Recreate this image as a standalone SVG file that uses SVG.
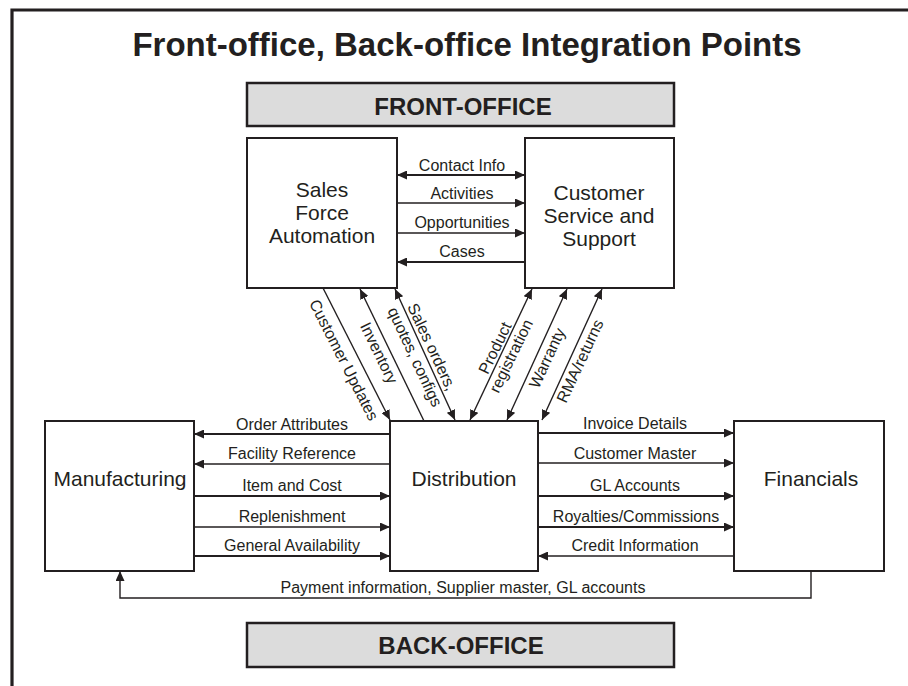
<svg xmlns="http://www.w3.org/2000/svg" width="908" height="686" viewBox="0 0 908 686">
  <style>
    text { font-family: "Liberation Sans", Arial, sans-serif; fill: #231f20; }
    .title { font-size: 33px; font-weight: bold; text-anchor: middle; }
    .band { fill: #dcdcdc; stroke: #231f20; stroke-width: 2.5; }
    .bandtxt { font-size: 24px; font-weight: bold; text-anchor: middle; }
    .node { fill: #ffffff; stroke: #231f20; stroke-width: 2; }
    .ntxt { font-size: 21px; text-anchor: middle; }
    .lbl { font-size: 16px; text-anchor: middle; }
    .dlbl { font-size: 16px; text-anchor: middle; dominant-baseline: central; }
    .thin { stroke: #231f20; stroke-width: 1.4; fill: none; }
    .thick { stroke: #231f20; stroke-width: 2.2; fill: none; }
    .frame { stroke: #231f20; stroke-width: 3.2; fill: none; }
  </style>
  <defs>
    <marker id="arrow" markerUnits="userSpaceOnUse" markerWidth="10" markerHeight="9" refX="10" refY="4.5" orient="auto-start-reverse">
      <path d="M0,0 L10,4.5 L0,9 Z" fill="#231f20"/>
    </marker>
  </defs>

  <!-- outer frame (open at right and bottom) -->
  <path class="frame" d="M12,686 V10 H908"/>

  <text class="title" x="467" y="56">Front-office, Back-office Integration Points</text>

  <g id="front-office">
    <rect class="band" x="247" y="83" width="427" height="43"/>
    <text class="bandtxt" x="463" y="115">FRONT-OFFICE</text>
  </g>

  <g id="back-office">
    <rect class="band" x="247" y="623" width="427" height="44"/>
    <text class="bandtxt" x="461" y="654">BACK-OFFICE</text>
  </g>

  <g id="sales-force-automation">
    <rect class="node" x="247" y="138" width="150" height="150"/>
    <text class="ntxt" x="322" y="197">Sales</text>
    <text class="ntxt" x="322" y="220">Force</text>
    <text class="ntxt" x="322" y="243">Automation</text>
  </g>

  <g id="customer-service">
    <rect class="node" x="525" y="138" width="149" height="150"/>
    <text class="ntxt" x="599" y="200">Customer</text>
    <text class="ntxt" x="599" y="223">Service and</text>
    <text class="ntxt" x="599" y="246">Support</text>
  </g>

  <g id="manufacturing">
    <rect class="node" x="45" y="421" width="149" height="150"/>
    <text class="ntxt" x="120" y="486">Manufacturing</text>
  </g>

  <g id="distribution">
    <rect class="node" x="390" y="421" width="148" height="150"/>
    <text class="ntxt" x="464" y="486">Distribution</text>
  </g>

  <g id="financials">
    <rect class="node" x="734" y="421" width="150" height="150"/>
    <text class="ntxt" x="811" y="486">Financials</text>
  </g>

  <g id="connectors">
    <!-- Sales Force Automation <-> Customer Service -->
    <line class="thick" x1="397" y1="175" x2="525" y2="175" marker-start="url(#arrow)" marker-end="url(#arrow)"/>
    <line class="thin" x1="397" y1="203" x2="525" y2="203" marker-end="url(#arrow)"/>
    <line class="thin" x1="397" y1="233" x2="525" y2="233" marker-end="url(#arrow)"/>
    <line class="thick" x1="525" y1="262" x2="397" y2="262" marker-end="url(#arrow)"/>
    <text class="lbl" x="462" y="171">Contact Info</text>
    <text class="lbl" x="462" y="199">Activities</text>
    <text class="lbl" x="462" y="228">Opportunities</text>
    <text class="lbl" x="462" y="257">Cases</text>

    <!-- front office <-> Distribution -->
    <line class="thin" x1="323" y1="288" x2="390" y2="420" marker-end="url(#arrow)"/>
    <line class="thin" x1="424" y1="421" x2="360" y2="289" marker-end="url(#arrow)"/>
    <line class="thin" x1="395" y1="289" x2="455" y2="420" marker-start="url(#arrow)" marker-end="url(#arrow)"/>
    <line class="thin" x1="470" y1="420" x2="532" y2="289" marker-start="url(#arrow)" marker-end="url(#arrow)"/>
    <line class="thin" x1="507" y1="420" x2="567" y2="289" marker-start="url(#arrow)" marker-end="url(#arrow)"/>
    <line class="thin" x1="542" y1="420" x2="602" y2="289" marker-start="url(#arrow)" marker-end="url(#arrow)"/>
    <text class="dlbl" transform="translate(344,360) rotate(63)">Customer Updates</text>
    <text class="dlbl" transform="translate(379,353) rotate(64)">Inventory</text>
    <text class="dlbl" transform="translate(432,347) rotate(65)">Sales orders,</text>
    <text class="dlbl" transform="translate(415,357) rotate(65)">quotes, configs</text>
    <text class="dlbl" transform="translate(495,348) rotate(-64)">Product</text>
    <text class="dlbl" transform="translate(511,356) rotate(-64)">registration</text>
    <text class="dlbl" transform="translate(547,358) rotate(-65)">Warranty</text>
    <text class="dlbl" transform="translate(580,361) rotate(-65)">RMA/returns</text>

    <!-- Distribution <-> Manufacturing -->
    <line class="thick" x1="390" y1="434" x2="194" y2="434" marker-end="url(#arrow)"/>
    <line class="thin" x1="390" y1="464" x2="194" y2="464" marker-end="url(#arrow)"/>
    <line class="thick" x1="194" y1="496" x2="390" y2="496" marker-end="url(#arrow)"/>
    <line class="thin" x1="194" y1="527" x2="390" y2="527" marker-end="url(#arrow)"/>
    <line class="thick" x1="194" y1="556" x2="390" y2="556" marker-end="url(#arrow)"/>
    <text class="lbl" x="292" y="430">Order Attributes</text>
    <text class="lbl" x="292" y="459">Facility Reference</text>
    <text class="lbl" x="292" y="491">Item and Cost</text>
    <text class="lbl" x="292" y="522">Replenishment</text>
    <text class="lbl" x="292" y="551">General Availability</text>

    <!-- Distribution <-> Financials -->
    <line class="thick" x1="538" y1="433" x2="734" y2="433" marker-end="url(#arrow)"/>
    <line class="thin" x1="538" y1="463" x2="734" y2="463" marker-end="url(#arrow)"/>
    <line class="thick" x1="538" y1="496" x2="734" y2="496" marker-end="url(#arrow)"/>
    <line class="thick" x1="538" y1="527" x2="734" y2="527" marker-end="url(#arrow)"/>
    <line class="thin" x1="734" y1="556" x2="538" y2="556" marker-end="url(#arrow)"/>
    <text class="lbl" x="635" y="429">Invoice Details</text>
    <text class="lbl" x="635" y="459">Customer Master</text>
    <text class="lbl" x="635" y="491">GL Accounts</text>
    <text class="lbl" x="636" y="522">Royalties/Commissions</text>
    <text class="lbl" x="635" y="551">Credit Information</text>

    <!-- Financials -> Manufacturing -->
    <path class="thin" d="M811,571 V598 H120 V571" marker-end="url(#arrow)"/>
    <text class="lbl" x="463" y="593">Payment information, Supplier master, GL accounts</text>
  </g>
</svg>
